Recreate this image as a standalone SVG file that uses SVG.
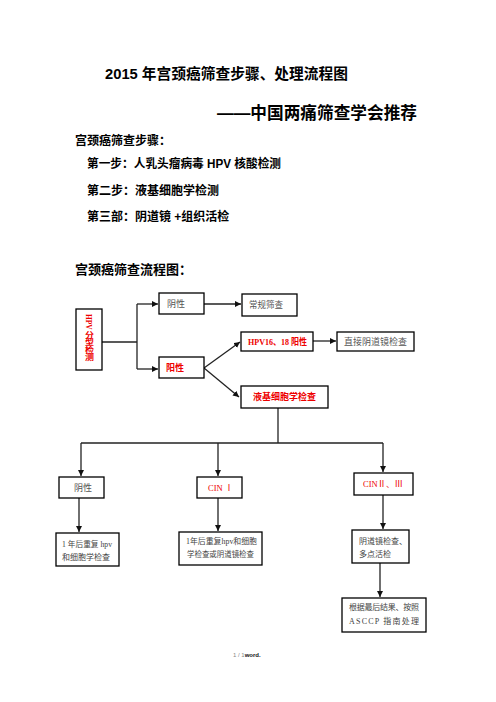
<svg xmlns="http://www.w3.org/2000/svg" width="496" height="702" viewBox="0 0 496 702">
<style>
.h{font-family:"Liberation Sans","Noto Sans CJK SC",sans-serif;font-weight:bold;fill:#000}
.box{fill:#fff;stroke:#000;stroke-width:1.3}
.g{font-family:"Liberation Serif","Noto Sans CJK SC",serif;fill:#555;font-size:9px}
.r{font-family:"Liberation Serif","Noto Sans CJK SC",serif;fill:#ee0000;font-size:9px;font-weight:bold}
.rn{font-family:"Liberation Serif","Noto Sans CJK SC",serif;fill:#ee0000;font-size:8.5px}
.k{font-family:"Liberation Serif","Noto Sans CJK SC",serif;fill:#444;font-size:8px}
.ln{fill:none;stroke:#222;stroke-width:1.3}
</style>
<defs>
<marker id="ar" markerWidth="7" markerHeight="7" refX="6" refY="3" orient="auto" markerUnits="userSpaceOnUse">
<path d="M0,0 L6,3 L0,6 z" fill="#111"/>
</marker>
</defs>
<rect width="496" height="702" fill="#fff"/>
<text class="h" x="105" y="79" font-size="15" textLength="243" lengthAdjust="spacingAndGlyphs">2015 年宫颈癌筛查步骤、处理流程图</text>
<text class="h" x="217" y="119" font-size="17" textLength="200" lengthAdjust="spacingAndGlyphs">——中国两痛筛查学会推荐</text>
<text class="h" x="75" y="145" font-size="12">宫颈癌筛查步骤：</text>
<text class="h" x="87" y="168" font-size="12" textLength="194" lengthAdjust="spacingAndGlyphs">第一步：人乳头瘤病毒 HPV 核酸检测</text>
<text class="h" x="87" y="195" font-size="12">第二步：液基细胞学检测</text>
<text class="h" x="87" y="221" font-size="12">第三部：阴道镜 +组织活检</text>
<text class="h" x="75" y="274" font-size="13">宫颈癌筛查流程图：</text>

<g id="connectors">
<path class="ln" d="M102,342 H137"/>
<path class="ln" d="M137,304 V369"/>
<path class="ln" d="M137,304 H158" marker-end="url(#ar)"/>
<path class="ln" d="M137,369 H158" marker-end="url(#ar)"/>
<path class="ln" d="M204,304 H241" marker-end="url(#ar)"/>
<path class="ln" d="M204,368 L240,342" marker-end="url(#ar)"/>
<path class="ln" d="M204,368 L239,397" marker-end="url(#ar)"/>
<path class="ln" d="M313,341 H336" marker-end="url(#ar)"/>
<path class="ln" d="M278,408 V443"/>
<path class="ln" d="M81,443 H383"/>
<path class="ln" d="M81,443 V476" marker-end="url(#ar)"/>
<path class="ln" d="M218,443 V476" marker-end="url(#ar)"/>
<path class="ln" d="M383,443 V472" marker-end="url(#ar)"/>
<path class="ln" d="M79,498 V532" marker-end="url(#ar)"/>
<path class="ln" d="M218,498 V531" marker-end="url(#ar)"/>
<path class="ln" d="M383,495 V529" marker-end="url(#ar)"/>
<path class="ln" d="M380,563 V597" marker-end="url(#ar)"/>
</g>

<g id="hpv">
<rect class="box" x="76" y="309" width="26" height="61"/>
<text class="r" x="89" y="314" font-size="11" writing-mode="tb" textLength="47" lengthAdjust="spacingAndGlyphs">HPV 分型检测</text>
</g>
<g id="neg1">
<rect class="box" x="159" y="293" width="45" height="21"/>
<text class="g" x="167" y="307">阴性</text>
</g>
<g id="pos1">
<rect class="box" x="159" y="357" width="45" height="21"/>
<text class="r" x="166" y="371">阳性</text>
</g>
<g id="routine">
<rect class="box" x="242" y="294" width="55" height="22"/>
<text class="g" x="249" y="308" textLength="34" lengthAdjust="spacingAndGlyphs">常规筛查</text>
</g>
<g id="hpv1618">
<rect class="box" x="241" y="332" width="72" height="19"/>
<text class="r" x="248" y="345" textLength="59" lengthAdjust="spacingAndGlyphs">HPV16、18 阳性</text>
</g>
<g id="colpo">
<rect class="box" x="337" y="332" width="77" height="19"/>
<text class="g" x="344" y="345" textLength="63" lengthAdjust="spacingAndGlyphs">直接阴道镜检查</text>
</g>
<g id="lbc">
<rect class="box" x="241" y="386" width="87" height="22"/>
<text class="r" x="253" y="400" textLength="63" lengthAdjust="spacingAndGlyphs">液基细胞学检查</text>
</g>
<g id="neg2">
<rect class="box" x="59" y="477" width="45" height="21"/>
<text class="g" x="74" y="491" font-size="8">阴性</text>
</g>
<g id="cin1">
<rect class="box" x="197" y="477" width="45" height="21"/>
<text class="rn" x="208" y="491">CIN Ⅰ</text>
</g>
<g id="cin23">
<rect class="box" x="354" y="473" width="59" height="22"/>
<text class="rn" x="363" y="487" textLength="40" lengthAdjust="spacingAndGlyphs">CINⅡ、Ⅲ</text>
</g>
<g id="followup1">
<rect class="box" x="56" y="533" width="63" height="33"/>
<text class="k" x="62" y="547" textLength="50" lengthAdjust="spacingAndGlyphs">1 年后重复 hpv</text>
<text class="k" x="62" y="560">和细胞学检查</text>
</g>
<g id="followup2">
<rect class="box" x="179" y="532" width="83" height="33"/>
<text class="k" x="186" y="544" textLength="71" lengthAdjust="spacingAndGlyphs">1年后重复hpv和细胞</text>
<text class="k" x="187" y="557" textLength="67" lengthAdjust="spacingAndGlyphs">学检查或阴道镜检查</text>
</g>
<g id="biopsy">
<rect class="box" x="352" y="530" width="57" height="33"/>
<text class="k" x="359" y="544">阴道镜检查、</text>
<text class="k" x="359" y="557">多点活检</text>
</g>
<g id="ascc">
<rect class="box" x="342" y="598" width="84" height="34"/>
<text class="k" x="349" y="610" textLength="70" lengthAdjust="spacing">根据最后结果、按照</text>
<text class="k" x="349" y="624" textLength="70" lengthAdjust="spacing">ASCCP 指南处理</text>
</g>
<text x="233" y="657" font-family="Liberation Sans, sans-serif" font-size="6" fill="#888">1 / 1<tspan fill="#111" font-weight="bold">word.</tspan></text>
</svg>
